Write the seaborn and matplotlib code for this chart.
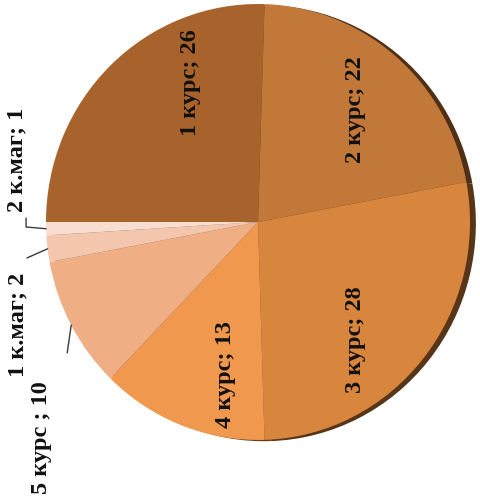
import numpy as np
import matplotlib
matplotlib.use("Agg")
import matplotlib.pyplot as plt
import seaborn as sns

# данные круговой диаграммы
labels = ["1 курс", "2 курс", "3 курс", "4 курс", "5 курс ", "1 к.маг", "2 к.маг"]
values = [26, 22, 28, 13, 10, 2, 1]
slice_colors = ["#A8632C", "#C27838", "#D8853E", "#F0994E", "#F0AE84", "#F5C6AE", "#F8DDD0"]

sns.set_theme(style="white")
plt.rcParams['font.family'] = ['Liberation Serif', 'DejaVu Serif']

fig = plt.figure(figsize=(4.81, 5.01), dpi=100)
ax = fig.add_axes([46 / 481, 61 / 501, 424 / 481, 436 / 501])

palette = sns.color_palette(slice_colors)
wedges, _ = ax.pie(values, colors=palette, startangle=180, counterclock=False,
                   radius=1.0, center=(0, 0),
                   shadow={'ox': 0.02, 'oy': -0.004, 'shade': 0.6, 'alpha': 1},
                   wedgeprops=dict(linewidth=0))
ax.set_xlim(-1, 1)
ax.set_ylim(-1, 1)
ax.set_aspect('auto')
ax.axis('off')

# подписи внутри секторов
inside = {
    0: (-0.32, 0.64),
    1: (0.458, 0.514),
    2: (0.458, -0.541),
    3: (-0.151, -0.702),
}
# подписи снаружи с выносками: позиция текста и точки линии
outside = {
    4: ((-1.02, -0.99), [(-0.90, -0.60)]),
    5: ((-1.132, -0.472), [(-1.09, -0.165)]),
    6: ((-1.137, 0.284), [(-1.094, -0.023), (-1.094, 0.018)]),
}

for i, w in enumerate(wedges):
    txt = f"{labels[i]}; {values[i]}"
    mid = np.deg2rad((w.theta1 + w.theta2) / 2)
    if i in inside:
        x, y = inside[i]
        ax.text(x, y, txt, rotation=90, ha='center', va='center',
                fontsize=17.5, fontweight='bold', color='#111111')
    else:
        (x, y), pts = outside[i]
        ax.text(x, y, txt, rotation=90, ha='center', va='center',
                fontsize=17.5, fontweight='bold', color='#111111', clip_on=False)
        edge = (np.cos(mid), np.sin(mid))
        line = [edge] + pts
        ax.plot([p[0] for p in line], [p[1] for p in line], color='#3a3a3a',
                lw=1.0, clip_on=False)

fig.savefig("out.png", dpi=100)
